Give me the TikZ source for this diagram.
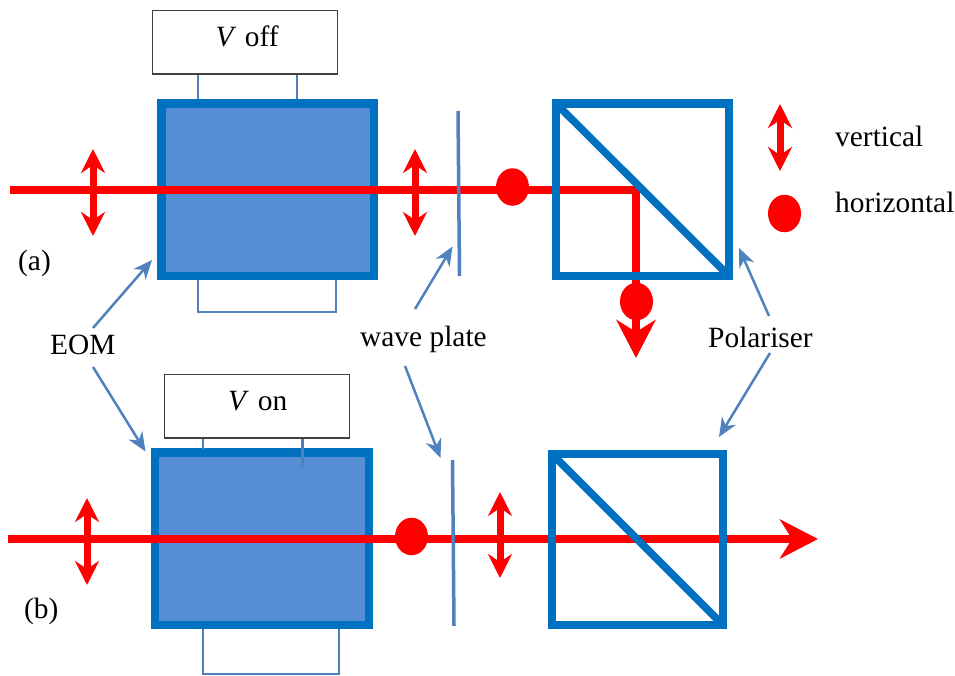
\documentclass[tikz,border=0pt]{standalone}
\usepackage{fontspec}
\setmainfont{Liberation Serif}
\usetikzlibrary{arrows.meta,shapes.geometric}
\definecolor{bdr}{HTML}{0070C0}
\definecolor{fillb}{HTML}{558ED5}
\definecolor{thinb}{HTML}{4F81BD}
\definecolor{beamr}{HTML}{FF0000}
\tikzset{
  x=1pt,y=-1pt,
  lbl/.style={anchor=base west,inner sep=0pt,font=\fontsize{29.4}{31}\selectfont,text=black},
  vbox/.style={draw=black!75,line width=1.6pt,fill=white,inner sep=0pt},
  eom/.style={draw=bdr,line width=8.3pt,fill=fillb,inner sep=0pt,outer sep=0pt},
  pol/.style={draw=bdr,line width=8.3pt,inner sep=0pt,outer sep=0pt},
  wire/.style={draw=thinb,line width=2.5pt},
  plate/.style={draw=thinb,line width=3.5pt},
  diag/.style={draw=bdr,line width=7.5pt},
  beam/.style={draw=beamr,line width=8pt},
  pola/.style={{Stealth[length=24pt,width=24pt,inset=8pt]}-{Stealth[length=24pt,width=24pt,inset=8pt]},draw=beamr,line width=7pt},
  beamhead/.style={-{Stealth[length=38pt,width=39pt,inset=12pt]},draw=beamr,line width=8pt},
  dotr/.style={draw=none,fill=beamr,ellipse,minimum width=33pt,minimum height=37.5pt,inner sep=0pt},
  ptr/.style={-{Stealth[length=19pt,width=16pt,inset=6pt]},draw=thinb,line width=2.5pt},
}
\begin{document}
\begin{tikzpicture}
\useasboundingbox (0,0) rectangle (955,675);
% ---------- panel (a)
\node[eom,minimum width=212.5pt,minimum height=172.5pt] (eomA) at (267.75,189.75) {};
\node[vbox,minimum width=185pt,minimum height=63.5pt] (vA) at (245,42.25) {};
\node[lbl] (vAt) at (215.5,46.5) {\textit{V}\hspace{8.5pt}off};
\coordinate (a1) at (198,99); \coordinate (a2) at (297,99);
\coordinate (a3) at (198,280); \coordinate (a4) at (198,312); \coordinate (a5) at (336,312); \coordinate (a6) at (336,280);
\draw[wire] (a1 |- vA.south) -- (a1);
\draw[wire] (a2 |- vA.south) -- (a2);
\draw[wire] (a3) -- (a4) -- (a5) -- (a6);
\coordinate (beamAs) at (10,189.5);
\coordinate (beamAc) at (636,189.5);
\coordinate (beamAe) at (636,358);
\draw[beamhead] (beamAc) -- (beamAe);
\draw[beam] (beamAs) -- ([xshift=4pt]beamAc);
\node[pol,minimum width=173pt,minimum height=172.5pt] (polA) at (642.5,189.75) {};
\coordinate (dA0) at (556,103.5); \coordinate (dA9) at (729,276);
\draw[diag] (dA0) -- (dA9);
\node[dotr] (dA1) at (512.5,187) {};
\node[dotr] (dA2) at (636.5,301.5) {};
\coordinate (plAt) at (458,111); \coordinate (plAb) at (459.5,276);
\draw[plate] (plAt) -- (plAb);
\coordinate (paT) at (93,149); \coordinate (paB) at (93,236);
\draw[pola] (paB) -- (paT);
\coordinate (pbT) at (415,149); \coordinate (pbB) at (415,236);
\draw[pola] (pbB) -- (pbT);
\node[lbl] (la) at (18,270) {(a)};
% ---------- legend
\coordinate (lgT) at (780,104); \coordinate (lgB) at (780,171);
\draw[pola] (lgB) -- (lgT);
\node[dotr] (lgD) at (784.5,213.5) {};
\node[lbl] (lv) at (835,146.5) {vertical};
\node[lbl] (lh) at (835,212) {horizontal};
% ---------- panel (b)
\node[eom,minimum width=214pt,minimum height=172.5pt] (eomB) at (262,538.75) {};
\node[vbox,minimum width=185pt,minimum height=63.5pt] (vB) at (257,406.25) {};
\node[lbl] (vBt) at (228,410.5) {\textit{V}\hspace{9pt}on};
\coordinate (b1) at (203,449); \coordinate (b2) at (302.5,467);
\coordinate (b3) at (203,629); \coordinate (b4) at (203,674); \coordinate (b5) at (339,674); \coordinate (b6) at (339,629);
\draw[wire] (b1 |- vB.south) -- (b1);
\draw[wire] (b2 |- vB.south) -- (b2);
\draw[wire] (b3) -- (b4) -- (b5) -- (b6);
\coordinate (beamBs) at (8,539);
\coordinate (beamBe) at (818,539);
\draw[beamhead] (beamBs) -- (beamBe);
\node[pol,minimum width=171pt,minimum height=171pt] (polB) at (637.5,539.5) {};
\coordinate (dB0) at (552,454); \coordinate (dB9) at (723,625);
\draw[diag] (dB0) -- (dB9);
\node[dotr] (dB1) at (411.5,536.5) {};
\coordinate (plBt) at (452.5,460); \coordinate (plBb) at (454,626);
\draw[plate] (plBt) -- (plBb);
\coordinate (pcT) at (87,498); \coordinate (pcB) at (87,585);
\draw[pola] (pcB) -- (pcT);
\coordinate (pdT) at (500,492); \coordinate (pdB) at (500,578);
\draw[pola] (pdB) -- (pdT);
\node[lbl] (lb) at (24,618) {(b)};
% ---------- labels and pointers
\node[lbl] (teom) at (50,354) {EOM};
\node[lbl] (twp) at (360,346) {wave plate};
\node[lbl] (tpol) at (708,347) {Polariser};
\coordinate (e1) at (93,328); \coordinate (e1t) at (152,260);
\coordinate (e2) at (93,367); \coordinate (e2t) at (145.5,451.5);
\coordinate (w1) at (415,309); \coordinate (w1t) at (452.5,246.5);
\coordinate (w2) at (405,366); \coordinate (w2t) at (440.5,458);
\coordinate (p1) at (769,316); \coordinate (p1t) at (739,248);
\coordinate (p2) at (770,353); \coordinate (p2t) at (719,437);
\draw[ptr] (e1) -- (e1t);
\draw[ptr] (e2) -- (e2t);
\draw[ptr] (w1) -- (w1t);
\draw[ptr] (w2) -- (w2t);
\draw[ptr] (p1) -- (p1t);
\draw[ptr] (p2) -- (p2t);
\end{tikzpicture}
\end{document}
